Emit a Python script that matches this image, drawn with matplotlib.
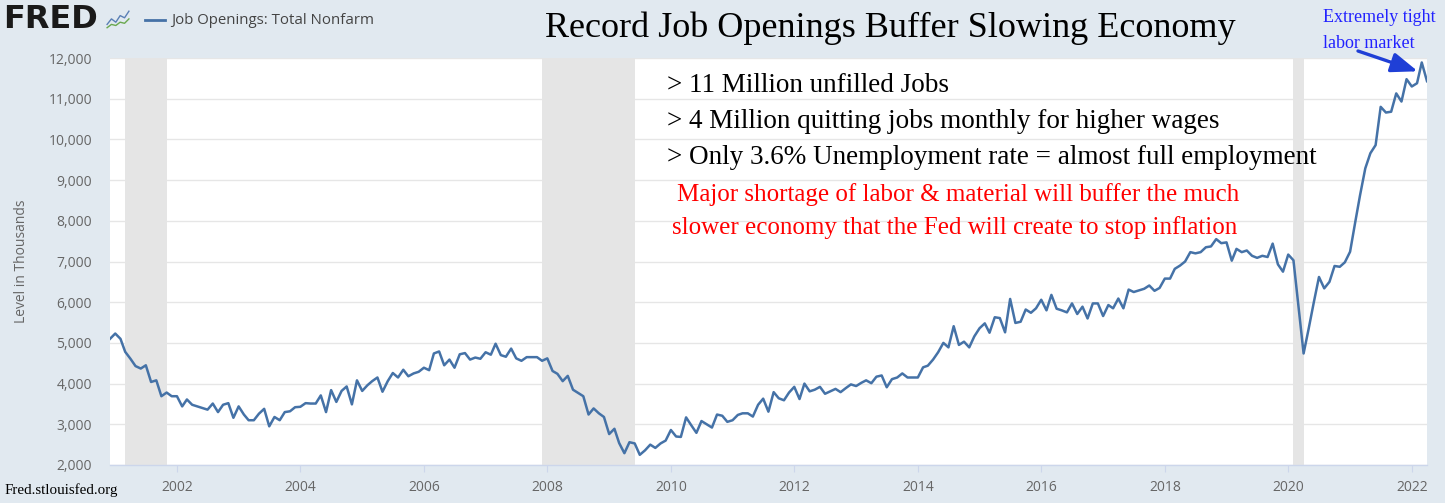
"""FRED chart - Job Openings: Total Nonfarm, annotated"""
import numpy as np
import pandas as pd
import matplotlib
matplotlib.use('Agg')
import matplotlib.pyplot as plt
from matplotlib.lines import Line2D

# monthly job openings (thousands), Dec 2000 .. Apr 2022
start_month = '2000-12-01'
openings = [
    5100,                                                                   # 2000-12
    5230, 5100, 4780, 4610, 4430, 4370, 4450, 4040, 4080, 3690, 3780, 3690,  # 2001
    3690, 3440, 3610, 3480, 3440, 3400, 3360, 3510, 3300, 3480, 3520, 3160,  # 2002
    3440, 3240, 3100, 3100, 3260, 3380, 2950, 3180, 3100, 3300, 3320, 3420,  # 2003
    3430, 3520, 3510, 3510, 3710, 3300, 3840, 3550, 3820, 3930, 3490, 4080,  # 2004
    3820, 3960, 4060, 4150, 3800, 4060, 4260, 4150, 4340, 4180, 4250, 4290,  # 2005
    4390, 4330, 4740, 4790, 4450, 4590, 4390, 4720, 4750, 4590, 4640, 4610,  # 2006
    4770, 4710, 4980, 4700, 4660, 4860, 4620, 4560, 4650, 4650, 4650, 4560,  # 2007
    4620, 4310, 4240, 4060, 4190, 3850, 3770, 3690, 3240, 3390, 3270, 3180,  # 2008
    2760, 2890, 2540, 2290, 2560, 2530, 2250, 2360, 2500, 2420, 2530, 2600,  # 2009
    2860, 2700, 2690, 3170, 2980, 2790, 3080, 3000, 2920, 3240, 3210, 3060,  # 2010
    3100, 3230, 3270, 3270, 3190, 3480, 3630, 3310, 3790, 3640, 3590, 3780,  # 2011
    3920, 3620, 4000, 3810, 3850, 3920, 3750, 3810, 3870, 3790, 3890, 3980,  # 2012
    3940, 4020, 4080, 4010, 4170, 4200, 3910, 4110, 4150, 4250, 4150, 4150,  # 2013
    4150, 4400, 4440, 4590, 4770, 5000, 4890, 5410, 4950, 5030, 4890, 5160,  # 2014
    5360, 5480, 5250, 5630, 5610, 5260, 6080, 5490, 5520, 5820, 5740, 5850,  # 2015
    6060, 5800, 6180, 5840, 5800, 5750, 5970, 5710, 5890, 5600, 5970, 5970,  # 2016
    5660, 5930, 5850, 6090, 5850, 6310, 6250, 6290, 6330, 6410, 6280, 6350,  # 2017
    6580, 6580, 6820, 6900, 7000, 7230, 7200, 7230, 7350, 7370, 7550, 7450,  # 2018
    7470, 7020, 7310, 7230, 7270, 7140, 7090, 7140, 7110, 7440, 6930, 6750,  # 2019
    7170, 7030, 5920, 4740, 5350, 6010, 6620, 6340, 6500, 6890, 6870, 6980,  # 2020
    7240, 7980, 8630, 9290, 9660, 9860, 10800, 10660, 10680, 11130, 10930, 11480,  # 2021
    11300, 11380, 11890, 11430,                                            # 2022
]

# NBER recessions shaded by FRED
recession_starts = ['2001-03-01', '2007-12-01', '2020-02-01']
recession_ends = ['2001-11-01', '2009-06-01', '2020-04-01']

y_ticks = [2000, 3000, 4000, 5000, 6000, 7000, 8000, 9000, 10000, 11000, 12000]
x_tick_years = [2002, 2004, 2006, 2008, 2010, 2012, 2014, 2016, 2018, 2020, 2022]

title = 'Record Job Openings Buffer Slowing Economy'
black_notes = ['> 11 Million unfilled Jobs',
               '> 4 Million quitting jobs monthly for higher wages',
               '> Only 3.6% Unemployment rate = almost full employment']
red_notes = ['Major shortage of labor & material will buffer the much',
             'slower economy that the Fed will create to stop inflation']
blue_note = ['Extremely tight', 'labor market']

# small FRED logo squiggles
icon_blue = [0.3, 0.55, 0.4, 0.7, 0.6, 0.9]
icon_green = [0.15, 0.3, 0.25, 0.4, 0.35, 0.55]

BG = '#e1e9f0'
LINE = '#4572a7'
W, H = 1445, 503


def fx(px):
    return px / W


def fy(py):
    return 1 - py / H


dates = pd.date_range(start_month, periods=len(openings), freq='MS')

fig = plt.figure(figsize=(W / 100, H / 100), dpi=100, facecolor=BG)
ax = fig.add_axes([fx(110), fy(465), fx(1427) - fx(110), fy(58) - fy(465)])
ax.set_facecolor('white')

for s, e in zip(recession_starts, recession_ends):
    ax.axvspan(pd.Timestamp(s), pd.Timestamp(e), color='#e5e5e5', lw=0, zorder=1)

ax.plot(dates, openings, color=LINE, lw=1.8, zorder=3, solid_joinstyle='round')

ax.set_xlim(dates[0], dates[-1])
ax.set_ylim(2000, 12000)
ax.set_yticks(y_ticks)
ax.set_yticklabels([f'{v:,}' for v in y_ticks])
ax.set_xticks([pd.Timestamp(f'{y}-01-01') for y in x_tick_years])
ax.set_xticklabels([str(y) for y in x_tick_years])
ax.grid(axis='y', color='#e6e6e6', lw=1, zorder=0)
ax.set_axisbelow(True)
for side in ['top', 'right', 'left']:
    ax.spines[side].set_visible(False)
ax.spines['bottom'].set_color('#ccd6eb')
ax.spines['bottom'].set_linewidth(1)
ax.tick_params(axis='y', length=0, pad=13, labelsize=10, labelcolor='#666666')
ax.tick_params(axis='x', length=5, color='#ccd6eb', pad=6, labelsize=10,
               labelcolor='#666666')
for lbl in ax.get_xticklabels() + ax.get_yticklabels():
    lbl.set_fontfamily('Open Sans')
ax.set_ylabel('Level in Thousands', fontsize=10, color='#666666',
              family='Open Sans', labelpad=14)

# header: FRED logo + legend
fig.text(fx(3), fy(20), 'FRED', fontsize=23, fontweight='heavy', family='DejaVu Sans',
         color='#1a1a1a', va='center', ha='left')
icon = fig.add_axes([fx(106), fy(31), fx(24), 22 / H])
icon.set_facecolor('#ececec')
icon.plot(range(len(icon_blue)), icon_blue, color='#5a7fb5', lw=1)
icon.plot(range(len(icon_green)), icon_green, color='#6aa84f', lw=1)
icon.set_ylim(0, 1)
icon.axis('off')
fig.add_artist(Line2D([fx(145), fx(165)], [fy(20), fy(20)], color=LINE, lw=2))
fig.text(fx(171), fy(20), 'Job Openings: Total Nonfarm', fontsize=10.8, family='Open Sans',
         color='#444444', va='center', ha='left')

fig.text(fx(890), fy(28), title, fontsize=26, family='Liberation Serif', color='black',
         ha='center', va='center')

for i, t in enumerate(black_notes):
    fig.text(fx(667), fy(85 + 36 * i), t, fontsize=19.5, family='Liberation Serif',
             color='black', ha='left', va='center')
fig.text(fx(677), fy(195), red_notes[0], fontsize=18, family='Liberation Serif',
         color='red', ha='left', va='center')
fig.text(fx(672), fy(228), red_notes[1], fontsize=18, family='Liberation Serif',
         color='red', ha='left', va='center')

fig.text(fx(1323), fy(17), blue_note[0], fontsize=13, family='Liberation Serif',
         color='#2222ff', ha='left', va='center')
fig.text(fx(1323), fy(43), blue_note[1], fontsize=13, family='Liberation Serif',
         color='#2222ff', ha='left', va='center')
ax.annotate('', xy=(dates[-2], openings[-2] - 250), xycoords='data',
            xytext=(fx(1358), fy(51)), textcoords='figure fraction',
            arrowprops=dict(arrowstyle='-|>,head_length=1.6,head_width=0.6',
                            color='#1f3fd6', lw=2.4, shrinkA=0, shrinkB=3),
            annotation_clip=False)

fig.text(fx(5), fy(490), 'Fred.stlouisfed.org', fontsize=10.8, family='Liberation Serif',
         color='black', ha='left', va='center')

fig.savefig('out.png', dpi=100, facecolor=BG)
